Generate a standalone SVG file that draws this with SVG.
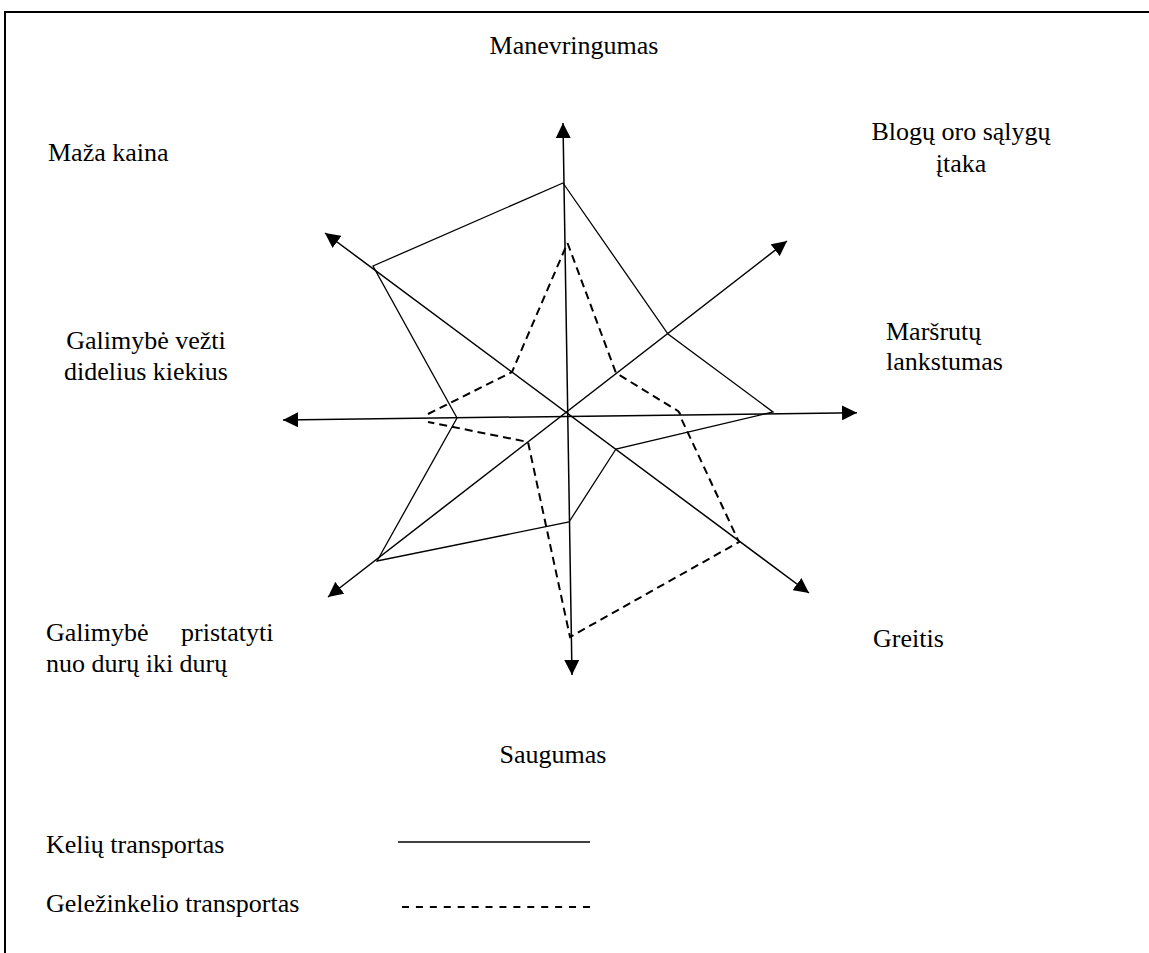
<svg xmlns="http://www.w3.org/2000/svg" width="1149" height="953" viewBox="0 0 1149 953">
  <style>
    .lbl { font-family: "Liberation Serif", "Times New Roman", "DejaVu Serif", serif; font-size: 26px; fill: #000; }
    .frame { fill: none; stroke: #000; stroke-width: 2; }
    .axis { fill: none; stroke: #000; stroke-width: 1.5; marker-start: url(#arrow); marker-end: url(#arrow); }
    .road { fill: none; stroke: #000; stroke-width: 1.3; stroke-linejoin: miter; }
    .rail { fill: none; stroke: #000; stroke-width: 2; stroke-dasharray: 8 5; }
    .mid { text-anchor: middle; }
  </style>
  <defs>
    <marker id="arrow" viewBox="0 0 15 15" refX="15" refY="7.5" markerWidth="15" markerHeight="15" markerUnits="userSpaceOnUse" orient="auto-start-reverse">
      <path d="M0,0 L15,7.5 L0,15 z" fill="#000"/>
    </marker>
  </defs>

  <rect width="1149" height="953" fill="#fff"/>
  <!-- page frame: top and left rules -->
  <path class="frame" d="M5,953 V12 H1149"/>

  <!-- radial axes -->
  <g id="axes">
    <line class="axis" x1="563" y1="123" x2="572" y2="675"/>
    <line class="axis" x1="283" y1="420" x2="857" y2="412.7"/>
    <line class="axis" x1="325" y1="233" x2="809" y2="593"/>
    <line class="axis" x1="787" y1="241" x2="328" y2="597"/>
  </g>

  <!-- road transport profile -->
  <g id="road-profile">
    <polygon class="road" points="563,183 668,334 773,412 616,449 569,522 377,561 457,418 373,266"/>
  </g>

  <!-- rail transport profile -->
  <g id="rail-profile">
    <path class="rail" d="M567.5,243 L616,373 L678,411 Q681,414 681,418 L739,542 L570,637 L528,442 L428,422 M428,414 L512,372 L567.5,243"/>
  </g>

  <!-- axis labels -->
  <g id="label-manevringumas"><text class="lbl mid" x="574" y="54">Manevringumas</text></g>
  <g id="label-maza-kaina"><text class="lbl" x="48" y="161">Maža kaina</text></g>
  <g id="label-blogu-oro">
    <text class="lbl mid" x="961" y="140">Blogų oro sąlygų</text>
    <text class="lbl mid" x="961" y="172">įtaka</text>
  </g>
  <g id="label-galimybe-vezti">
    <text class="lbl mid" x="146" y="349">Galimybė vežti</text>
    <text class="lbl mid" x="146" y="380">didelius kiekius</text>
  </g>
  <g id="label-marsrutu">
    <text class="lbl" x="886" y="340">Maršrutų</text>
    <text class="lbl" x="886" y="370">lankstumas</text>
  </g>
  <g id="label-greitis"><text class="lbl" x="873" y="647">Greitis</text></g>
  <g id="label-galimybe-pristatyti">
    <text class="lbl" y="641"><tspan x="46">Galimybė</tspan><tspan x="181">pristatyti</tspan></text>
    <text class="lbl" x="46" y="672">nuo durų iki durų</text>
  </g>
  <g id="label-saugumas"><text class="lbl mid" x="553" y="763">Saugumas</text></g>

  <!-- legend -->
  <g id="legend-road">
    <text class="lbl" x="46" y="853">Kelių transportas</text>
    <line x1="398" y1="842" x2="590" y2="842" stroke="#000" stroke-width="1.3"/>
  </g>
  <g id="legend-rail">
    <text class="lbl" x="46" y="912">Geležinkelio transportas</text>
    <line x1="402" y1="907" x2="590" y2="907" stroke="#000" stroke-width="2" stroke-dasharray="7 6.92"/>
  </g>
</svg>
